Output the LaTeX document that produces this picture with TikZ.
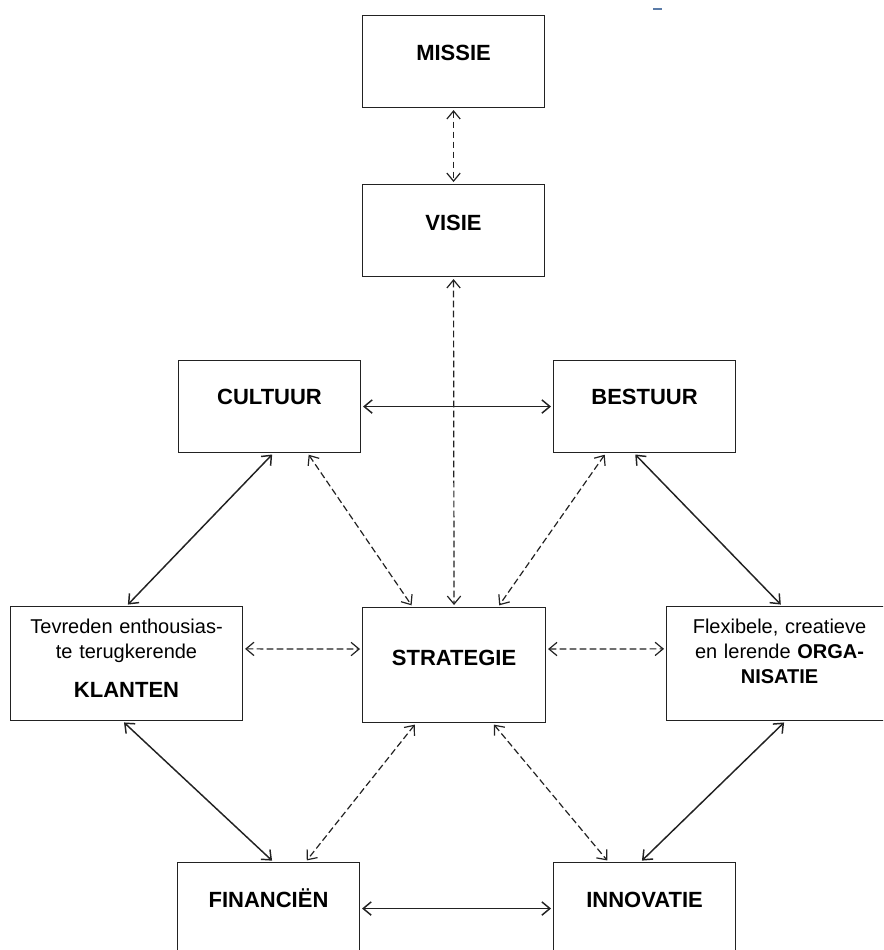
\documentclass[tikz,border=0pt]{standalone}
\usepackage{fontspec}
\setmainfont{Liberation Sans}
\usepackage{tikz}
\usetikzlibrary{arrows.meta}
\definecolor{ink}{HTML}{222222}
\definecolor{stray}{HTML}{5A7BA8}
\newcommand{\kop}[1]{{\fontsize{16.5}{18.75}\selectfont\bfseries #1}}
\tikzset{
  kader/.style={draw=ink,line width=0.8pt,inner sep=0pt,anchor=north west,
                align=center,text width=136.5pt,
                font=\fontsize{15}{18.75}\selectfont},
  vastarr/.style={{Straight Barb[length=6pt,width=10pt]}-{Straight Barb[length=6pt,width=10pt]},
                  line width=1.1pt,draw=ink,shorten <=1.5pt,shorten >=1.5pt},
  stipparr/.style={vastarr,line width=0.9pt,dash pattern=on 5pt off 2.5pt}
}
\begin{document}
\begin{tikzpicture}[x=0.75pt,y=-0.75pt]
  \useasboundingbox (0,0) rectangle (883,950);
  \clip (0,0) rectangle (883,950);
  \draw[stray,line width=1.2pt] (653,9)--(662,9);
  % boxes
  \node[kader,text height=33.75pt,text depth=35.25pt] (missie) at (362,15) {\kop{MISSIE}};
  \node[kader,text height=34.5pt,text depth=34.5pt] (visie) at (362,184) {\kop{VISIE}};
  \node[kader,text height=33pt,text depth=36pt] (cultuur) at (178,360) {\kop{CULTUUR}};
  \node[kader,text height=33pt,text depth=36pt] (bestuur) at (553,360) {\kop{BESTUUR}};
  \node[kader,text width=174pt,text height=20.25pt,text depth=65.25pt] (klanten) at (10,606)
    {Tevreden enthousias-\\te terugkerende\\[10.5pt]\kop{KLANTEN}};
  \node[kader,text width=137.25pt,text height=43.5pt,text depth=42.75pt] (strategie) at (362,607) {\kop{STRATEGIE}};
  \node[kader,text width=169.5pt,text height=20.25pt,text depth=65.25pt] (organisatie) at (666,606)
    {Flexibele, creatieve\\en lerende \textbf{ORGA-}\\\textbf{NISATIE}};
  \node[kader,text height=33.75pt,text depth=35.25pt] (financien) at (177,862) {\kop{FINANCIËN}};
  \node[kader,text height=33.75pt,text depth=35.25pt] (innovatie) at (553,862) {\kop{INNOVATIE}};
  % connectors
  \draw[stipparr] (missie.south)--(visie.north);
  \draw[stipparr] (visie.south)--(strategie.north);
  \draw[vastarr] (cultuur)--(bestuur);
  \draw[vastarr] ([xshift=3pt]cultuur.south)--(klanten.north);
  \draw[stipparr] ([xshift=28.5pt]cultuur.south)--([xshift=-31pt]strategie.north);
  \draw[stipparr] ([xshift=-29pt]bestuur.south)--([xshift=33pt]strategie.north);
  \draw[vastarr] ([xshift=-8pt]bestuur.south)--([xshift=2pt]organisatie.north);
  \draw[stipparr] ([yshift=11pt]klanten.east)--([yshift=12pt]strategie.west);
  \draw[stipparr] ([yshift=12pt]strategie.east)--([yshift=11pt]organisatie.west);
  \draw[vastarr] ([xshift=-3pt]klanten.south)--([xshift=3.75pt]financien.north);
  \draw[stipparr] ([xshift=-28.5pt]strategie.south)--([xshift=27.75pt]financien.north);
  \draw[stipparr] ([xshift=29pt]strategie.south)--([xshift=-27pt]innovatie.north);
  \draw[vastarr] ([xshift=4.5pt]organisatie.south)--([xshift=-3pt]innovatie.north);
  \draw[vastarr] (financien)--(innovatie);
\end{tikzpicture}
\end{document}
